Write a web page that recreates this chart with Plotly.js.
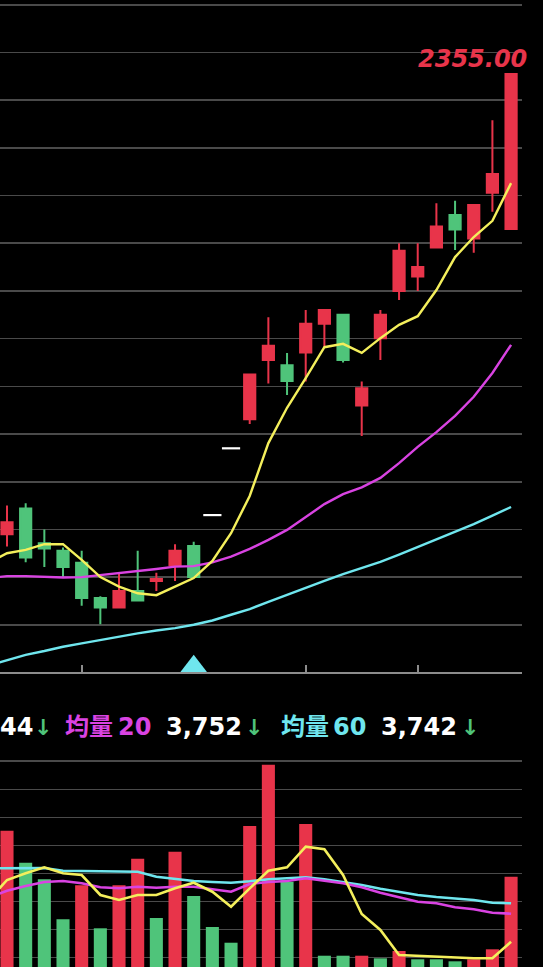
<!DOCTYPE html>
<html>
<head>
<meta charset="utf-8">
<script src="https://cdn.plot.ly/plotly-3.0.1.min.js"></script>
<style>html,body{margin:0;padding:0;background:#000;overflow:hidden}</style>
</head>
<body>
<div id="chart" style="width:543px;height:967px"></div>
<script>
// ---- data (trading-day index 0..27 on screen) ----
const dayIdx = [0,1,2,3,4,5,6,7,8,9,10,11,12,13,14,15,16,17,18,19,20,21,22,23,24,25,26,27];
const openP  = [1390,1444,1371,1355,1330,1256,1236,1271,1292,1325,1365,null,null,1631,1755,1744,1771,1831,1850,1660,1801,1900,1930,1991,2059,2010,2106,2030];
const highP  = [1450,1455,1400,1362,1355,1260,1309,1355,1309,1369,1374,null,null,1725,1845,1770,1860,1860,1850,1710,1860,2000,2000,2084,2089,2080,2258,2355];
const lowP   = [1364,1331,1321,1300,1240,1201,1236,1251,1271,1292,1300,null,null,1621,1706,1682,1710,1783,1750,1596,1755,1881,1900,1991,1986,1980,2066,2030];
const closeP = [1415,1341,1360,1321,1256,1236,1271,1251,1296,1355,1300,null,null,1725,1785,1711,1831,1860,1755,1696,1850,1984,1950,2035,2029,2080,2145,2355];
// one-price limit-up days (open = high = low = close)
const flatIdx   = [11,12];
const flatPrice = [1430,1570];
// moving averages, index -1..27
const maIdx = [-1,0,1,2,3,4,5,6,7,8,9,10,11,12,13,14,15,16,17,18,19,20,21,22,23,24,25,26,27];
const ma5  = [1330,1350,1357,1369,1369,1336,1300,1280,1266,1262,1280,1298,1334,1392,1470,1581,1655,1717,1782,1789,1770,1801,1829,1847,1902,1971,2013,2047,2126];
const ma20 = [1298,1302,1302,1300,1299,1300,1304,1309,1313,1317,1322,1323,1331,1343,1359,1378,1399,1426,1453,1474,1488,1508,1539,1573,1604,1638,1678,1728,1787];
const ma60 = [1114,1125,1137,1145,1154,1161,1168,1176,1182,1188,1193,1200,1209,1221,1233,1248,1263,1277,1292,1306,1319,1332,1347,1363,1379,1395,1411,1429,1447];
const buySignalIdx = [10];
// volume panel
const vol    = [5521,4379,3786,2357,3571,2036,3571,4521,2404,4771,3189,2082,1521,5689,7879,3700,5761,1057,1057,1057,964,1225,929,929,857,929,1286,3879];
const volDir = ['u','d','d','d','u','d','u','u','d','u','d','d','d','u','u','d','u','d','d','u','d','u','d','d','d','u','u','u'];
const vma5  = [3025,3761,4000,4214,4000,3939,3225,3046,3225,3225,3464,3664,3343,2807,3464,4093,4214,4950,4857,3939,2546,1975,1082,1046,1021,986,964,964,1557];
const vma20 = [3132,3379,3546,3689,3725,3643,3500,3464,3521,3486,3521,3521,3429,3343,3618,3689,3725,3821,3736,3643,3500,3307,3143,2986,2929,2786,2714,2593,2557];
const vma60 = [4179,4179,4179,4189,4093,4082,4057,4071,4057,3879,3796,3725,3689,3664,3714,3786,3821,3857,3786,3689,3582,3450,3343,3225,3154,3107,3046,2950,2929];
// legend texts
const legendMA5Tail = '44';
const legendMA20Label = '均量', legendMA20N = '20', legendMA20Val = '3,752';
const legendMA60Label = '均量', legendMA60N = '60', legendMA60Val = '3,742';
const monthTicks = [4,16,22];

// ---- styles ----
const UP = '#E8344A', DOWN = '#4FC47A';
const C5 = '#F4EF5C', C20 = '#D943E2', C60 = '#6FE6EE';
const GRID = '#4a4a4a', AXIS = '#8c8c8c';
const W = 543, H = 967, RM = 21, plotW = W - RM;
const priceBottomPx = 672, volTopPx = 758;
const xRange = [-0.375, 27.585];
const priceRange = [1101, 2510];
const volRange = [654, 8118];
const FONT = "'DejaVu Sans', 'Noto Sans CJK TC', sans-serif";

const keep = dayIdx.map((d,i)=>openP[i]!==null);
const sel = a => a.filter((v,i)=>keep[i]);

const pricePerPx = (priceRange[1]-priceRange[0]) / priceBottomPx;
const triSize = 23;
const buyY = buySignalIdx.map(()=>priceRange[0] + (triSize/4) * pricePerPx);

const traces = [
  {type:'candlestick', x: sel(dayIdx), open: sel(openP), high: sel(highP), low: sel(lowP), close: sel(closeP),
   xaxis:'x', yaxis:'y', whiskerwidth:0,
   increasing:{line:{color:UP,width:2}, fillcolor:UP},
   decreasing:{line:{color:DOWN,width:2}, fillcolor:DOWN}},
  {type:'scatter', mode:'markers', x: flatIdx, y: flatPrice, xaxis:'x', yaxis:'y',
   marker:{symbol:'line-ew', size:13, line:{color:'#ffffff', width:2.2}}},
  {type:'scatter', mode:'lines', x: maIdx, y: ma60, xaxis:'x', yaxis:'y', line:{color:C60, width:2.4}},
  {type:'scatter', mode:'lines', x: maIdx, y: ma20, xaxis:'x', yaxis:'y', line:{color:C20, width:2.4}},
  {type:'scatter', mode:'lines', x: maIdx, y: ma5,  xaxis:'x', yaxis:'y', line:{color:C5, width:2.4}},
  {type:'scatter', mode:'markers', x: buySignalIdx, y: buyY, xaxis:'x', yaxis:'y', cliponaxis:false,
   marker:{symbol:'triangle-up', size:triSize, color:C60, line:{width:0}}},
  {type:'bar', x: dayIdx, y: vol, xaxis:'x2', yaxis:'y2', width:0.7,
   marker:{color: volDir.map(d=>d==='u'?UP:DOWN), line:{width:0}}},
  {type:'scatter', mode:'lines', x: maIdx, y: vma60, xaxis:'x2', yaxis:'y2', line:{color:C60, width:2.6}},
  {type:'scatter', mode:'lines', x: maIdx, y: vma20, xaxis:'x2', yaxis:'y2', line:{color:C20, width:2.6}},
  {type:'scatter', mode:'lines', x: maIdx, y: vma5,  xaxis:'x2', yaxis:'y2', line:{color:C5, width:2.6}}
];

const legendY = (H - 727) / H;
const px = p => (p - 2) / plotW;
function leg(text, p, color, size) {
  return {xref:'paper', yref:'paper', x: px(p), y: legendY, xanchor:'left', yanchor:'middle',
          showarrow:false, text:'<b>'+text+'</b>', font:{family:FONT, size:size||24, color:color}};
}
const maxHigh = Math.max(...highP.filter(v=>v!==null));

const layout = {
  width:W, height:H, margin:{l:0, r:RM, t:0, b:0, pad:0},
  paper_bgcolor:'#000', plot_bgcolor:'#000', showlegend:false,
  boxgap:0.4, boxgroupgap:0,
  xaxis:{domain:[0,1], range:xRange, anchor:'y', showgrid:false, zeroline:false,
         showline:true, linecolor:AXIS, linewidth:2, ticks:'inside', tickvals:monthTicks,
         ticklen:7, tickwidth:2, tickcolor:AXIS, showticklabels:false, rangeslider:{visible:false}},
  yaxis:{domain:[1 - priceBottomPx/H, 1], range:priceRange, tick0:0, dtick:100, showgrid:true,
         gridcolor:GRID, gridwidth:1.6, zeroline:false, showticklabels:false, ticks:''},
  xaxis2:{domain:[0,1], range:xRange, anchor:'y2', showgrid:false, zeroline:false, showline:false,
          showticklabels:false, ticks:''},
  yaxis2:{domain:[0, (H - volTopPx)/H], range:volRange, tick0:0, dtick:1000, showgrid:true,
          gridcolor:GRID, gridwidth:1.6, zeroline:false, showticklabels:false, ticks:''},
  annotations:[
    {xref:'paper', yref:'paper', x:1, xanchor:'right', xshift:7, y:(H-59)/H, yanchor:'middle',
     showarrow:false, text:'<b><i>'+maxHigh.toFixed(2)+'</i></b>', font:{family:FONT, size:24, color:UP}},
    leg(legendMA5Tail, 0, '#ffffff'),
    leg('↓', 34, DOWN, 22),
    leg(legendMA20Label, 65, C20),
    leg(legendMA20N, 117.7, C20),
    leg(legendMA20Val, 165.5, '#ffffff'),
    leg('↓', 245, DOWN, 22),
    leg(legendMA60Label, 280.5, C60),
    leg(legendMA60N, 333, C60),
    leg(legendMA60Val, 381, '#ffffff'),
    leg('↓', 460.5, DOWN, 22)
  ]
};

Plotly.newPlot('chart', traces, layout, {staticPlot:true, displayModeBar:false});
</script>
</body>
</html>
